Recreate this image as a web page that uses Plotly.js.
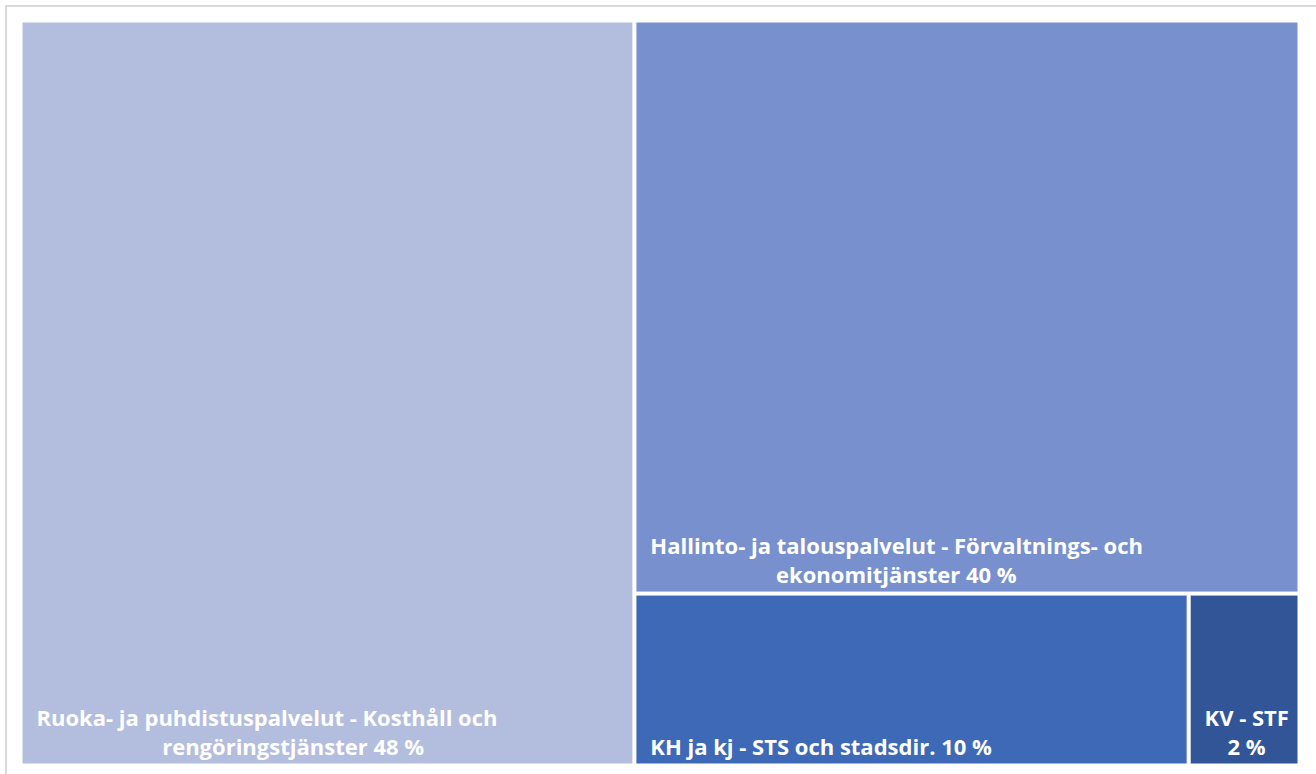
<!DOCTYPE html>
<html>
<head>
<meta charset="utf-8">
<script src="https://cdn.plot.ly/plotly-3.0.1.min.js"></script>
<style>html,body{margin:0;padding:0;background:#fff;}#chart{width:1316px;height:774px;}</style>
</head>
<body>
<div id="chart"></div>
<script>
// Data
const labels = [
  "Ruoka- ja puhdistuspalvelut - Kosthåll och rengöringstjänster",
  "Hallinto- ja talouspalvelut - Förvaltnings- och ekonomitjänster",
  "KH ja kj - STS och stadsdir.",
  "KV - STF"
];
const values = [48, 40, 10, 2];
const parents = ["", "", "", ""];

// Presentation: where each label wraps and how far the second line is indented (to centre it)
const firstLines = [
  "Ruoka- ja puhdistuspalvelut - Kosthåll och",
  "Hallinto- ja talouspalvelut - Förvaltnings- och",
  null,
  "KV - STF"
];
const indents = [22, 22, 0, 4];
const inset = 2;
const colors = ["#B3BDDE", "#7990CE", "#3E69B7", "#315597"];

const nb = n => "\u00A0".repeat(n);
const texts = labels.map((lab, i) => {
  const f = firstLines[i];
  if (f === null) return nb(inset) + lab + " " + values[i] + " %";
  const rest = lab.slice(f.length).trim();
  return nb(inset) + f + "<br>" + nb(inset + indents[i]) + (rest ? rest + " " : "") + values[i] + " %";
});

const trace = {
  type: "treemap",
  labels: labels,
  parents: parents,
  values: values,
  text: texts,
  texttemplate: "%{text}",
  textposition: "bottom left",
  hoverinfo: "label+value",
  sort: true,
  tiling: {packing: "squarify"},
  pathbar: {visible: false},
  marker: {colors: colors, line: {color: "#FFFFFF", width: 1}, pad: {t: 0, l: 0, r: 0, b: 0}},
  textfont: {family: "Open Sans", size: 22, color: "#FFFFFF", weight: "bold"},
  insidetextfont: {family: "Open Sans", size: 22, color: "#FFFFFF", weight: "bold"}
};

const layout = {
  width: 1316,
  height: 774,
  margin: {l: 22, r: 18, t: 22, b: 10},
  paper_bgcolor: "#FFFFFF",
  showlegend: false,
  shapes: [{
    type: "rect", xref: "paper", yref: "paper",
    x0: -0.0125, x1: 1.2, y0: -0.2, y1: 1.0216,
    line: {color: "#D9D9D9", width: 2}, fillcolor: "rgba(0,0,0,0)", layer: "below"
  }]
};

Plotly.newPlot("chart", [trace], layout, {displayModeBar: false, staticPlot: true});
</script>
</body>
</html>
